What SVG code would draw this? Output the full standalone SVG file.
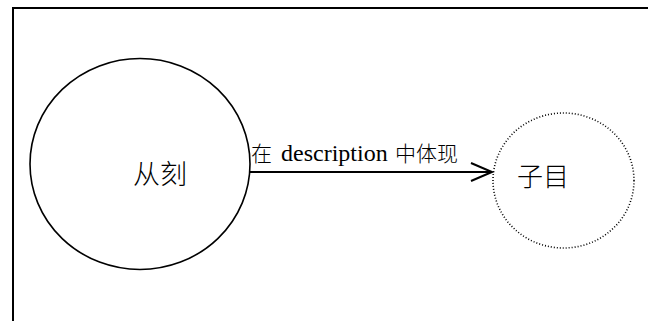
<svg xmlns="http://www.w3.org/2000/svg" width="648" height="321" viewBox="0 0 648 321">
<style>
.frame{fill:none;stroke:#000;stroke-width:2}
.node{fill:none;stroke:#000;stroke-width:1.6}
.dotted{fill:none;stroke:#000;stroke-width:1.6;stroke-dasharray:1 2}
.edge{fill:none;stroke:#000;stroke-width:2}
.cjk{font-family:"Noto Sans CJK SC","Liberation Serif",sans-serif;font-weight:300;fill:#000}
.lat{font-family:"Liberation Serif",serif;fill:#000}
</style>
<rect width="648" height="321" fill="#fff"/>
<g id="frame">
<polyline class="frame" points="13,321 13,8 648,8"/>
</g>
<g id="node-congke">
<ellipse class="node" cx="140" cy="164" rx="110" ry="105.5"/>
<text class="cjk" x="133" y="184" font-size="27">从刻</text>
</g>
<g id="node-zimu">
<ellipse class="dotted" cx="563.5" cy="180.5" rx="70.5" ry="67.5"/>
<text class="cjk" x="517" y="186" font-size="26">子目</text>
</g>
<g id="connectors">
<line class="edge" x1="250" y1="172" x2="491" y2="172"/>
<polyline class="edge" points="471,163 492,172 471,181"/>
<text y="160.5"><tspan class="cjk" x="251" font-size="21">在</tspan><tspan class="lat" x="281" font-size="24">description</tspan><tspan class="cjk" x="395" font-size="21">中体现</tspan></text>
</g>
</svg>
